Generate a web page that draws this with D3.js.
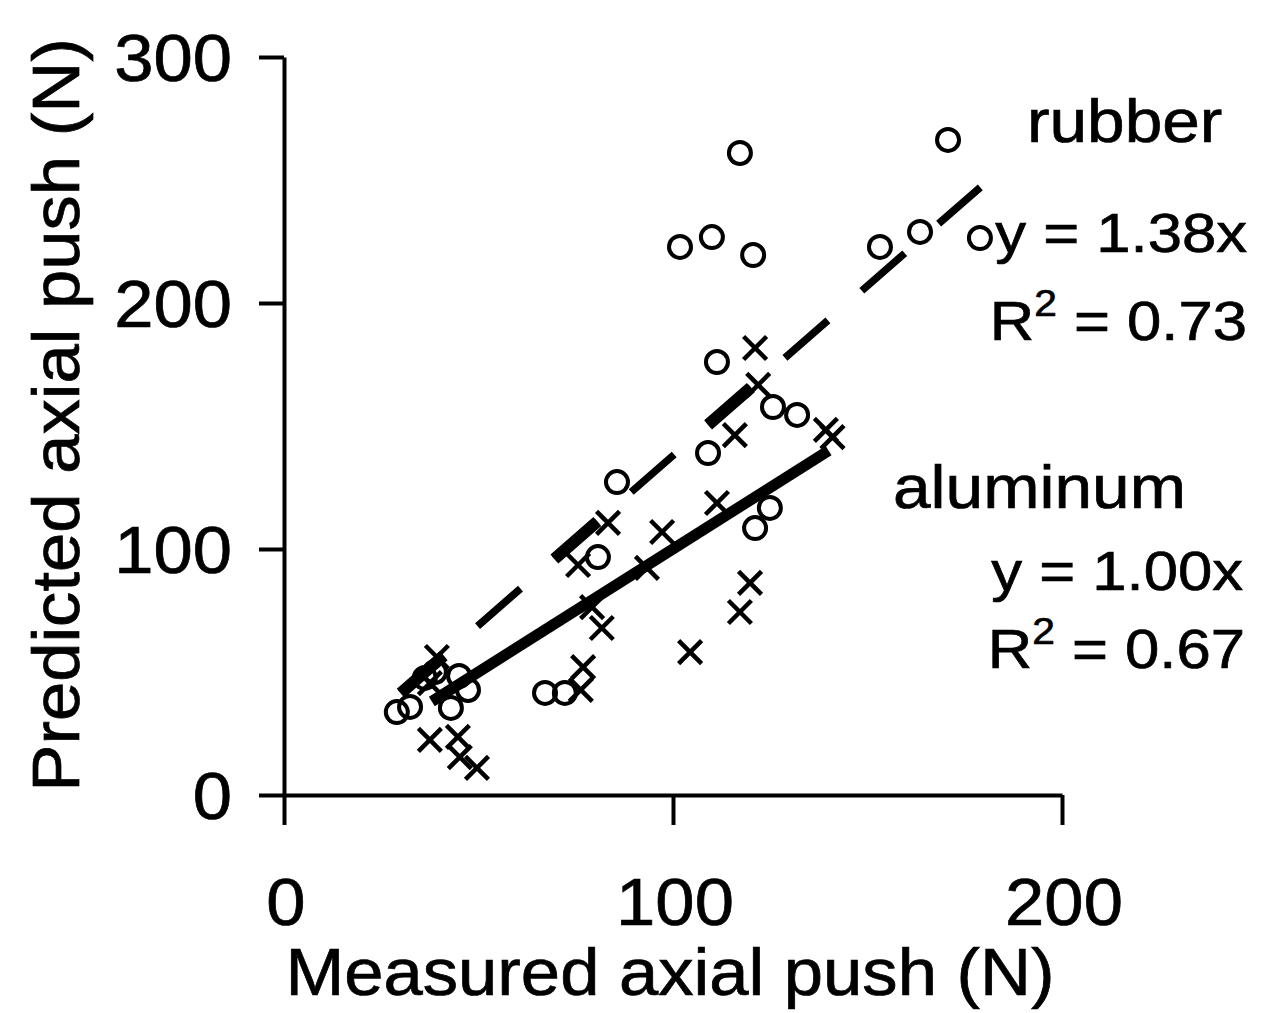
<!DOCTYPE html>
<html>
<head>
<meta charset="utf-8">
<script src="https://cdn.jsdelivr.net/npm/d3@7"></script>
<style>
  body { margin: 0; background: #fff; }
  text { font-family: "Liberation Sans", Arial, sans-serif; fill: #000; stroke: #000; stroke-width: 0.7px; }
</style>
</head>
<body>
<div id="chart"></div>
<script>
const width = 1265;
const height = 1013;

// rubber (circles)
const rubberX = [29.0, 32.4, 36.2, 38.8, 42.9, 45.0, 47.3, 67.1, 72.2, 80.7, 85.6, 101.8, 110.0, 117.2, 120.6, 111.3, 109.0, 121.1, 124.9, 125.7, 131.9, 153.2, 163.5, 170.7, 178.9];
const rubberY = [33.7, 35.8, 47.6, 50.0, 35.4, 48.4, 42.7, 41.5, 41.5, 96.7, 127.2, 222.8, 226.8, 261.0, 219.5, 176.0, 139.0, 108.5, 116.7, 157.7, 154.5, 222.8, 228.9, 266.3, 226.4];

// aluminum (crosses)
const alumX = [37.5, 44.7, 45.2, 49.6, 39.3, 37.5, 75.6, 83.3, 79.2, 81.7, 76.9, 76.3, 93.3, 97.2, 104.4, 111.3, 115.9, 121.1, 119.8, 117.2, 139.3, 141.0, 121.9];
const alumY = [22.4, 23.6, 15.4, 11.0, 56.1, 45.5, 93.5, 110.6, 76.4, 67.9, 52.0, 42.7, 92.3, 106.9, 58.1, 118.7, 146.3, 181.7, 86.2, 74.4, 148.4, 145.5, 166.7];

// fitted lines y = slope * x, over the x range drawn
const rubberSlope = 1.38;
const rubberFitX = [30, 179];
const alumSlope = 1.00;
const alumFitX = [38, 140];

const xTicks = [0, 100, 200];
const yTicks = [0, 100, 200, 300];

const svg = d3.select("#chart").append("svg").attr("width", width).attr("height", height);

const xScale = d3.scaleLinear().domain([0, 200]).range([284, 1062]);
const yScale = d3.scaleLinear().domain([0, 300]).range([795, 57]);

// axes
const yAxis = d3.axisLeft(yScale).tickValues(yTicks).tickSize(25).tickSizeOuter(0).tickFormat("");
const xAxis = d3.axisBottom(xScale).tickValues(xTicks).tickSize(30).tickSizeOuter(0).tickFormat("");

const gy = svg.append("g").attr("transform", `translate(${xScale(0)},0)`).call(yAxis);
const gx = svg.append("g").attr("transform", `translate(0,${yScale(0)})`).call(xAxis);
[gx, gy].forEach(g => {
    g.selectAll("path,line").attr("stroke", "#000").attr("stroke-width", 4);
});

function addText(x, y, str, size, anchor, sx, rotate) {
    const t = svg.append("text")
        .attr("transform", `translate(${x},${y})` + (rotate ? ` rotate(${rotate})` : "") + ` scale(${sx},1)`)
        .attr("font-size", size)
        .attr("text-anchor", anchor);
    t.text(str);
    return t;
}

// tick labels
yTicks.forEach(v => addText(232, yScale(v) + 24, v, 66, "end", 1.07));
xTicks.forEach(v => addText(xScale(v) + 2, 925, v, 66, "middle", 1.07));

// axis titles
addText(670, 995, "Measured axial push (N)", 66, "middle", 1.07);
addText(79, 415, "Predicted axial push (N)", 66, "middle", 1.07, -90);

// fit lines
const line = d3.line().x(d => xScale(d[0])).y(d => yScale(d[1]));

const rubberLine = rubberFitX.map(x => [x, rubberSlope * x]);
svg.append("path")
    .attr("d", line(rubberLine))
    .attr("fill", "none")
    .attr("stroke", "#000")
    .attr("stroke-width", 7.5)
    .attr("stroke-dasharray", "57,45");

// the first dashes look heavier in the original
svg.append("path")
    .attr("d", line([[rubberFitX[0], rubberSlope * rubberFitX[0]], [120, rubberSlope * 120]]))
    .attr("fill", "none")
    .attr("stroke", "#000")
    .attr("stroke-width", 12)
    .attr("stroke-dasharray", "57,147");

const alumLine = alumFitX.map(x => [x, alumSlope * x]);
svg.append("path")
    .attr("d", line(alumLine))
    .attr("fill", "none")
    .attr("stroke", "#000")
    .attr("stroke-width", 11);

// markers
const rubberPts = rubberX.map((x, i) => ({x: x, y: rubberY[i]}));
const alumPts = alumX.map((x, i) => ({x: x, y: alumY[i]}));

svg.selectAll("circle.rubber")
    .data(rubberPts)
    .join("circle")
    .attr("class", "rubber")
    .attr("cx", d => xScale(d.x))
    .attr("cy", d => yScale(d.y))
    .attr("r", 11)
    .attr("fill", "none")
    .attr("stroke", "#000")
    .attr("stroke-width", 4);

const s = 11.5;
svg.selectAll("path.alum")
    .data(alumPts)
    .join("path")
    .attr("class", "alum")
    .attr("d", d => {
        const cx = xScale(d.x), cy = yScale(d.y);
        return `M${cx - s},${cy - s}L${cx + s},${cy + s}M${cx - s},${cy + s}L${cx + s},${cy - s}`;
    })
    .attr("fill", "none")
    .attr("stroke", "#000")
    .attr("stroke-width", 4.5);

// annotations
addText(1027, 142, "rubber", 62, "start", 1.09);
addText(1247, 252, "y = 1.38x", 56, "end", 1.1);
const r1 = addText(1247, 340, "", 56, "end", 1.1);
r1.append("tspan").text("R");
r1.append("tspan").attr("font-size", 37).attr("dy", -24).text("2");
r1.append("tspan").attr("dy", 24).text(" = 0.73");

addText(893, 508, "aluminum", 62, "start", 1.09);
addText(1243, 590, "y = 1.00x", 56, "end", 1.1);
const r2 = addText(1245, 668, "", 56, "end", 1.1);
r2.append("tspan").text("R");
r2.append("tspan").attr("font-size", 37).attr("dy", -24).text("2");
r2.append("tspan").attr("dy", 24).text(" = 0.67");
</script>
</body>
</html>
